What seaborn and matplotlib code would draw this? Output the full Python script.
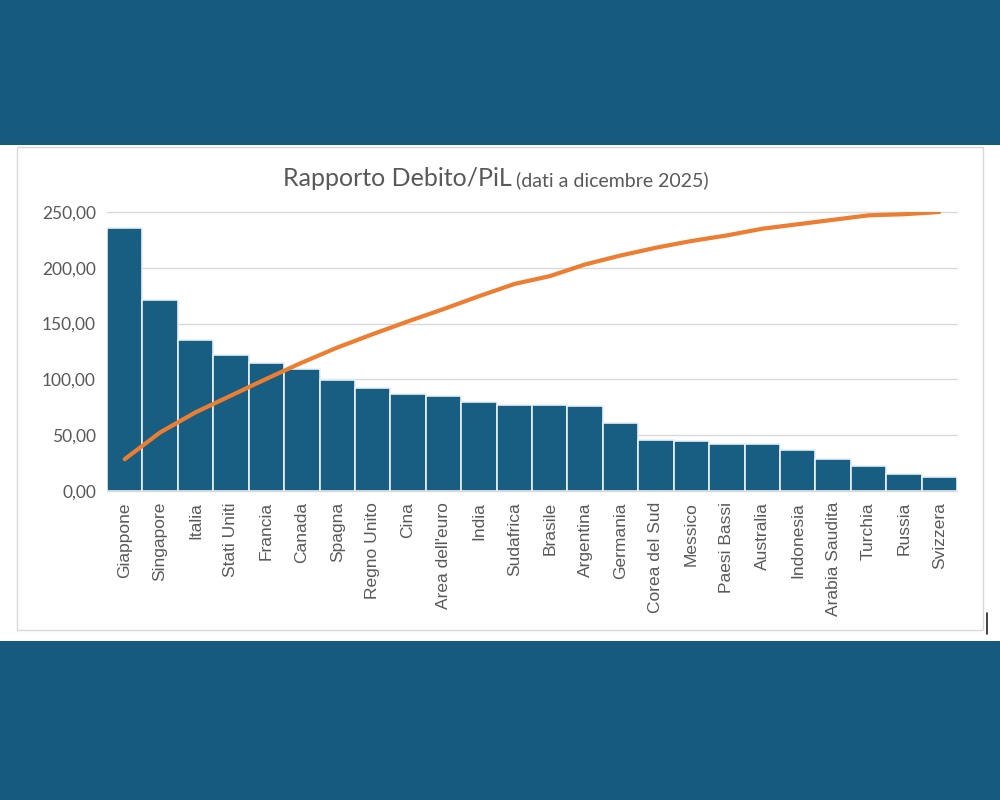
import numpy as np
import pandas as pd
import matplotlib.pyplot as plt
from matplotlib.patches import Rectangle
import seaborn as sns

# dati
paesi = ["Giappone", "Singapore", "Italia", "Stati Uniti", "Francia", "Canada",
         "Spagna", "Regno Unito", "Cina", "Area dell'euro", "India", "Sudafrica",
         "Brasile", "Argentina", "Germania", "Corea del Sud", "Messico",
         "Paesi Bassi", "Australia", "Indonesia", "Arabia Saudita", "Turchia",
         "Russia", "Svizzera"]
debito_pil = [235.7, 171.0, 135.0, 122.0, 115.0, 109.5, 99.5, 92.0, 87.0, 85.5,
              80.0, 77.5, 77.5, 76.0, 61.0, 46.0, 44.5, 42.5, 42.5, 37.0,
              29.0, 22.0, 15.0, 12.5]
# linea cumulata (pareto), scala 0-250
cumulata = [28.5, 52.5, 70.5, 85.5, 100.5, 115.0, 128.5, 140.5, 152.0, 163.0,
            174.5, 185.5, 192.5, 203.0, 211.0, 218.0, 224.0, 229.0, 235.0,
            239.0, 243.0, 247.0, 248.0, 250.0]
yticks = [0, 50, 100, 150, 200, 250]

df = pd.DataFrame({"paese": paesi, "valore": debito_pil, "cum": cumulata})

blu_sfondo = "#165a80"
blu_barre = "#185e83"
arancio = "#ed7d31"
grigio = "#595959"

sns.set_theme(style="white")
plt.rcParams["font.family"] = ["Lato", "DejaVu Sans"]

fig = plt.figure(figsize=(10, 8), dpi=100)
fig.patch.set_facecolor(blu_sfondo)

# fascia bianca e cornice del grafico (sotto gli assi)
fig.patches.append(Rectangle((0, 1 - 641 / 800), 1, (641 - 145) / 800,
                             transform=fig.transFigure, facecolor="white",
                             edgecolor="none", zorder=-2))
fig.patches.append(Rectangle((17 / 1000, 1 - 630 / 800), 966 / 1000, 483 / 800,
                             transform=fig.transFigure, facecolor="none",
                             edgecolor="#d9d9d9", linewidth=1, zorder=-1))
# cursore
fig.lines.append(plt.Line2D([987 / 1000, 987 / 1000], [1 - 634 / 800, 1 - 613 / 800],
                            transform=fig.transFigure, color="#222222", linewidth=1.2))

ax = fig.add_axes([0.107, 309 / 800, 0.85, 279 / 800])
ax.set_facecolor("none")

sns.barplot(data=df, x="paese", y="valore", color=blu_barre, width=1.0,
            edgecolor="#e8f0f5", linewidth=1.2, saturation=1, ax=ax, zorder=2)
sns.lineplot(data=df, x="paese", y="cum", color=arancio, linewidth=3,
             sort=False, ax=ax, zorder=3)

ax.set_xlim(-0.5, len(paesi) - 0.5)
ax.set_ylim(0, 250)
ax.set_yticks(yticks)
ax.set_yticklabels([f"{v:.2f}".replace(".", ",") for v in yticks],
                   fontsize=12.5, color=grigio)
ax.tick_params(axis="y", length=0, pad=8)
ax.tick_params(axis="x", length=0, pad=8)
for lab in ax.get_xticklabels():
    lab.set_rotation(90)
    lab.set_fontsize(12.5)
    lab.set_color(grigio)
    lab.set_family(["Liberation Sans", "DejaVu Sans"])
    lab.set_va("top")
    lab.set_ha("center")
ax.set_xlabel("")
ax.set_ylabel("")
ax.yaxis.grid(True, color="#d9d9d9", linewidth=1)
ax.set_axisbelow(True)
for s in ax.spines.values():
    s.set_visible(False)
for gl in ax.get_ygridlines():
    gl.set_clip_on(False)

# titolo in due parti
fig.canvas.draw()
r = fig.canvas.get_renderer()
t1 = fig.text(283 / 1000, 1 - 186 / 800, "Rapporto Debito/PiL", fontsize=18,
              color=grigio, ha="left", va="baseline")
bb = t1.get_window_extent(renderer=r)
t2 = fig.text(bb.x1 / 1000 + 0.004, 1 - 186 / 800, "(dati a dicembre 2025)",
              fontsize=14, color=grigio, ha="left", va="baseline")

fig.savefig("out.png", dpi=100, facecolor=fig.get_facecolor())
